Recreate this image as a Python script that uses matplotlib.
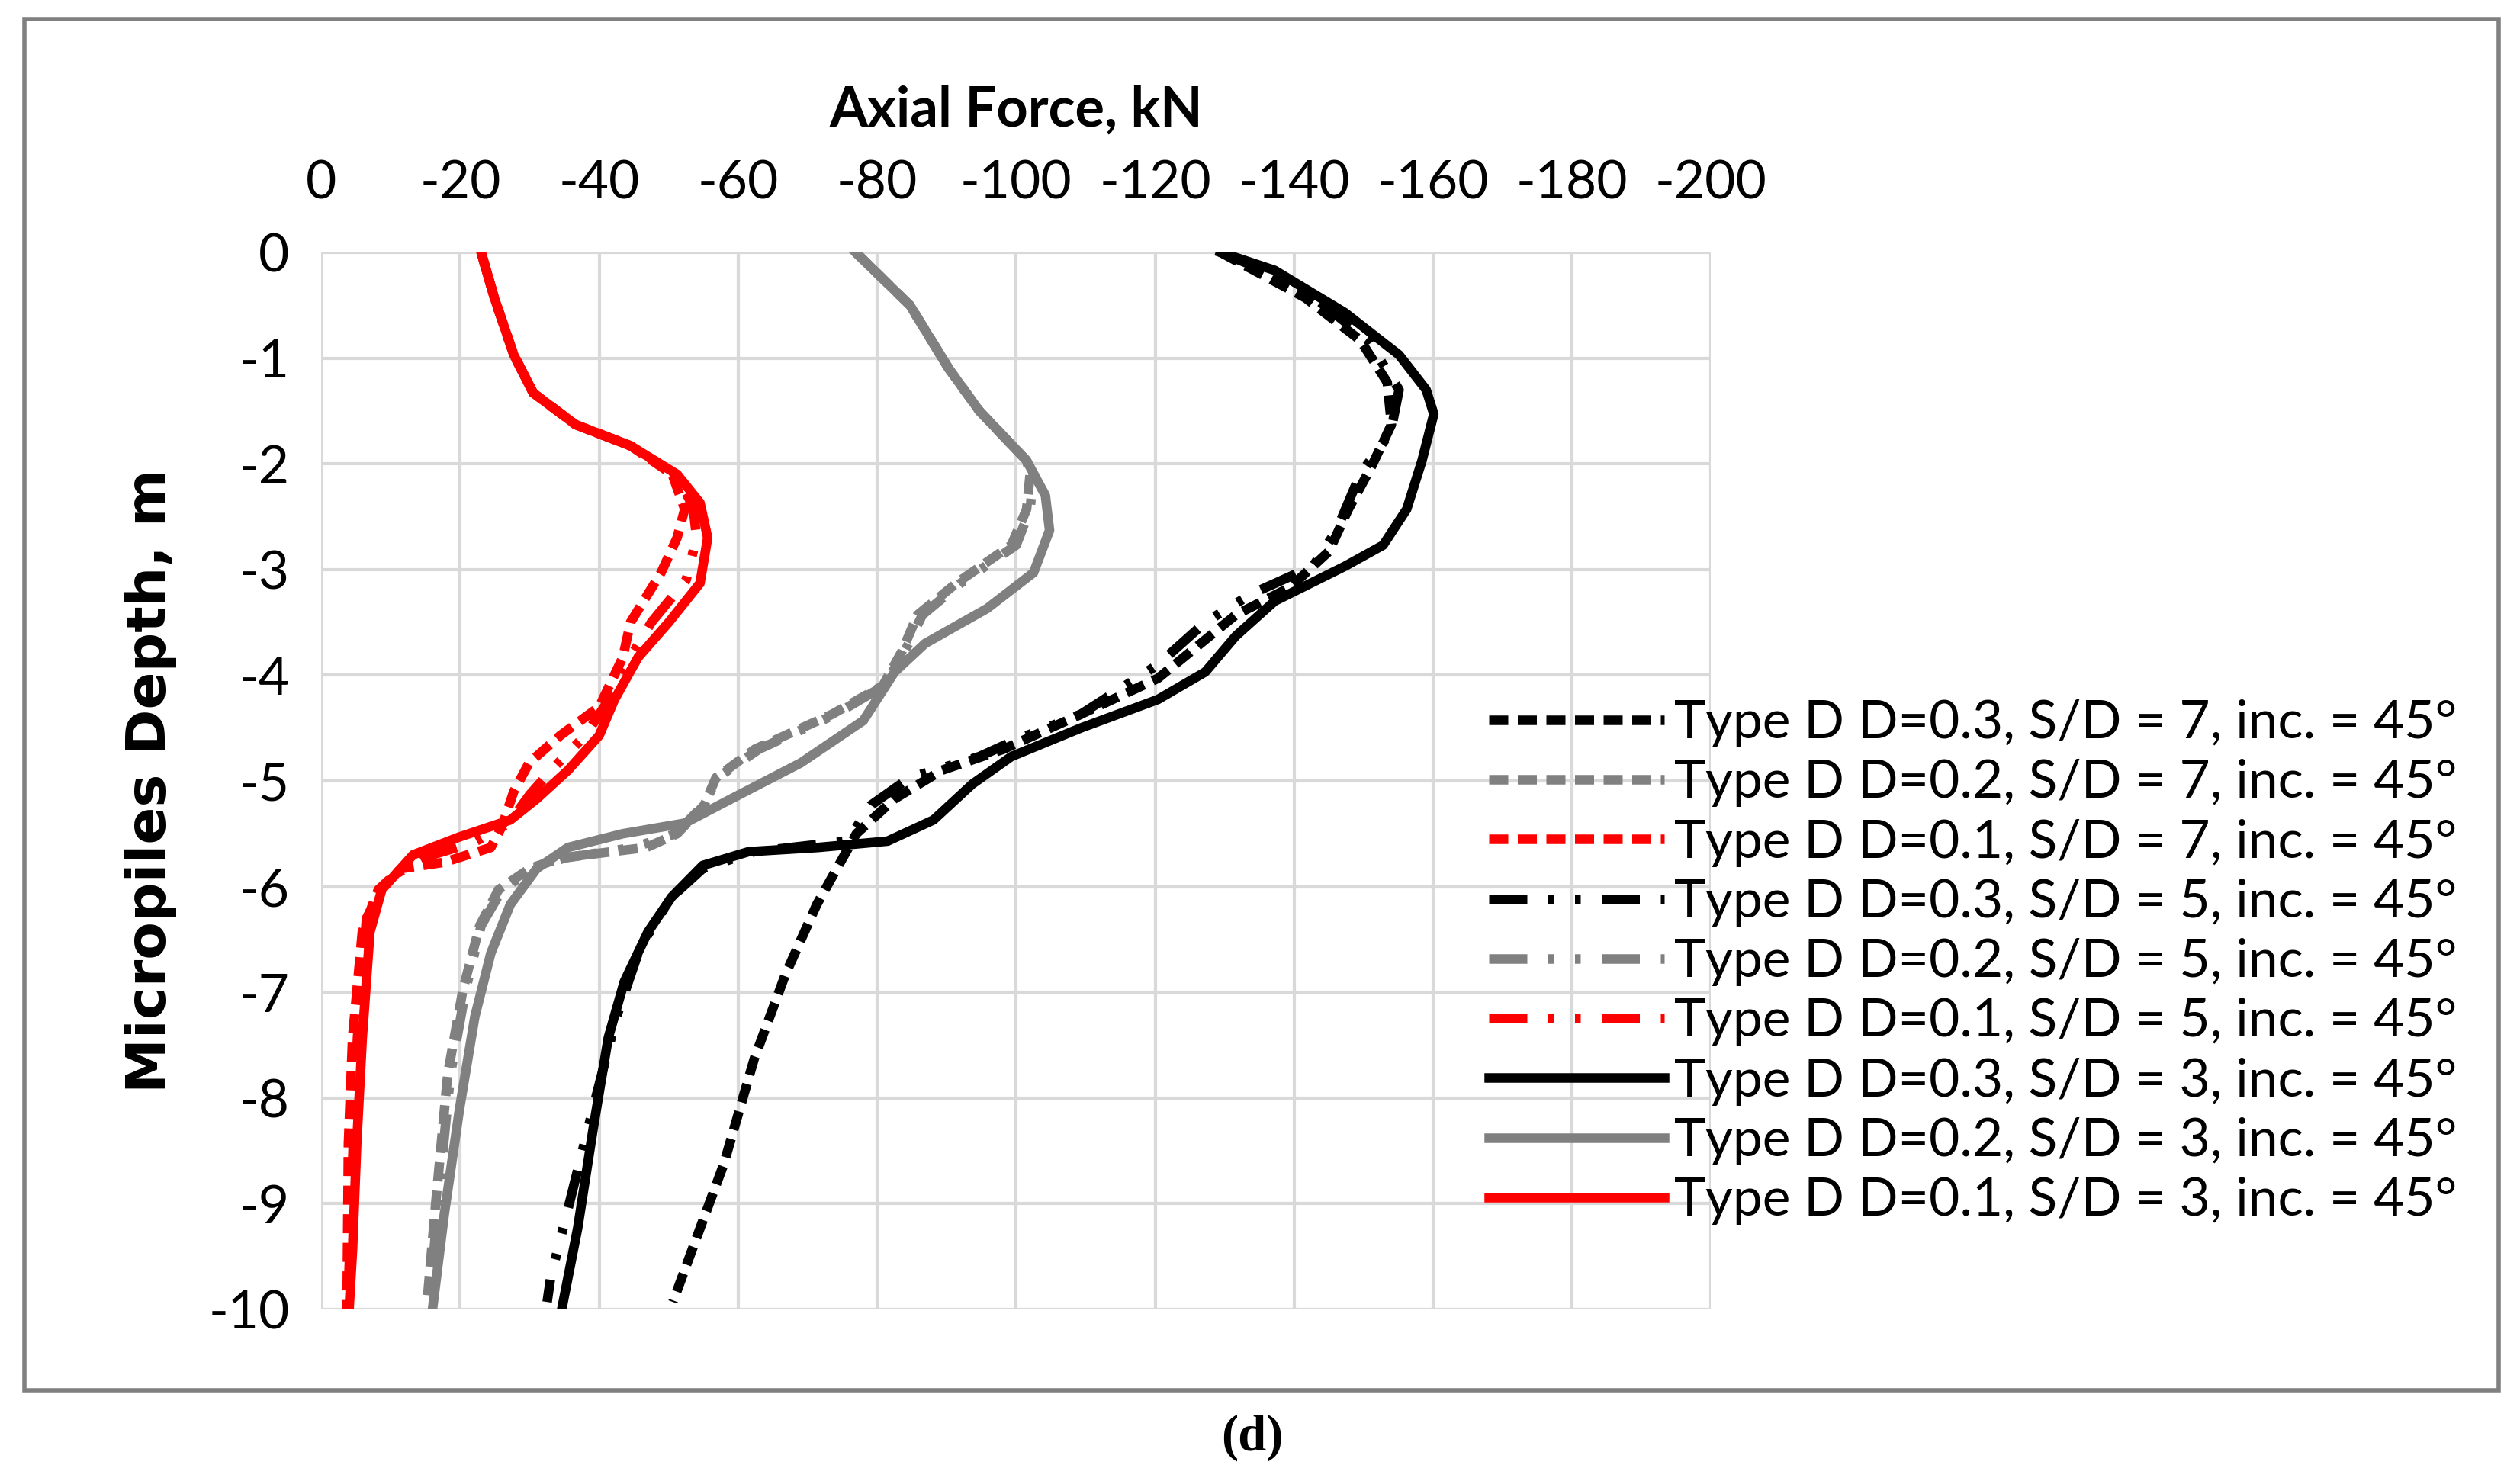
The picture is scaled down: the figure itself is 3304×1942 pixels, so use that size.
import matplotlib
matplotlib.use('Agg')
import matplotlib.pyplot as plt
from matplotlib.patches import Rectangle

# data: (force magnitude kN, depth m); force is plotted as negative

red_3_force = [23.0, 24.9, 27.7, 30.5, 36.6, 44.5, 51.2, 54.5, 55.6, 54.5, 50.0, 45.6, 42.2, 40.0, 35.5, 31.0, 27.2, 19.9, 13.2, 8.7, 7.0, 5.9, 5.1, 4.5, 4.0]
red_3_depth = [0, -0.43, -0.97, -1.33, -1.63, -1.83, -2.1, -2.37, -2.7, -3.13, -3.5, -3.83, -4.23, -4.57, -4.9, -5.17, -5.37, -5.53, -5.7, -6.03, -6.43, -7.43, -8.43, -9.43, -10]

red_7_force = [23.0, 24.9, 27.7, 30.5, 36.6, 44.5, 50.5, 52.3, 51.2, 48.9, 44.5, 43.4, 40.0, 34.4, 29.9, 27.7, 26.0, 24.4, 17.7, 11.5, 8.2, 5.9, 4.5, 3.9, 3.7]
red_7_depth = [0, -0.43, -0.97, -1.33, -1.63, -1.83, -2.1, -2.43, -2.7, -3.03, -3.5, -3.83, -4.3, -4.57, -4.83, -5.1, -5.43, -5.63, -5.77, -5.83, -6.03, -6.43, -7.43, -8.43, -10]

red_5_force = [23.0, 24.9, 27.7, 30.5, 36.6, 44.5, 51.0, 53.5, 54.0, 52.5, 47.5, 44.5, 41.0, 38.0, 33.5, 30.0, 27.0, 22.0, 15.0, 9.5, 6.5, 5.2, 4.6, 4.1, 3.8]
red_5_depth = [0, -0.43, -0.97, -1.33, -1.63, -1.83, -2.1, -2.4, -2.7, -3.1, -3.5, -3.83, -4.27, -4.57, -4.87, -5.13, -5.4, -5.58, -5.72, -5.93, -6.3, -7.43, -8.43, -9.43, -10]

gray_3_force = [76.9, 84.7, 90.3, 94.7, 101.5, 104.2, 104.8, 102.5, 95.8, 86.9, 82.5, 78.0, 69.0, 59.0, 52.3, 43.4, 35.5, 31.0, 27.2, 24.4, 22.1, 19.9, 17.7, 16.0]
gray_3_depth = [0, -0.5, -1.1, -1.5, -1.97, -2.3, -2.63, -3.03, -3.37, -3.7, -3.97, -4.43, -4.83, -5.17, -5.4, -5.5, -5.63, -5.83, -6.17, -6.63, -7.23, -8.1, -9.1, -10]

gray_7_force = [76.9, 84.7, 90.3, 94.7, 101.5, 102.0, 101.5, 99.3, 91.4, 85.8, 83.6, 80.8, 73.5, 62.4, 56.8, 55.1, 51.2, 46.8, 34.4, 30.0, 25.5, 22.8, 20.4, 18.2, 16.5, 15.2]
gray_7_depth = [0, -0.5, -1.1, -1.5, -1.97, -2.1, -2.43, -2.77, -3.13, -3.43, -3.77, -4.1, -4.37, -4.7, -4.97, -5.23, -5.5, -5.63, -5.73, -5.83, -6.03, -6.37, -6.97, -7.77, -8.97, -9.95]

gray_5_force = [76.9, 84.7, 90.3, 94.7, 101.5, 102.5, 102.0, 100.0, 92.0, 86.5, 84.0, 81.0, 74.0, 63.0, 57.0, 55.0, 51.0, 45.0, 35.0, 30.5, 26.0, 23.0, 20.8, 18.6, 16.8, 15.6]
gray_5_depth = [0, -0.5, -1.1, -1.5, -1.97, -2.1, -2.43, -2.77, -3.13, -3.43, -3.77, -4.1, -4.37, -4.7, -4.97, -5.23, -5.5, -5.63, -5.73, -5.83, -6.03, -6.37, -6.97, -7.77, -8.97, -9.95]

black_3_force = [129.4, 137.2, 147.3, 155.1, 159.0, 160.1, 158.4, 156.2, 152.8, 147.3, 137.2, 131.6, 127.2, 120.4, 109.3, 99.3, 93.7, 88.1, 81.5, 71.5, 61.5, 54.9, 50.4, 47.0, 43.6, 41.3, 39.1, 36.9, 34.6]
black_3_depth = [0, -0.17, -0.57, -0.97, -1.3, -1.53, -1.97, -2.43, -2.77, -2.97, -3.3, -3.63, -3.97, -4.23, -4.5, -4.77, -5.03, -5.37, -5.57, -5.63, -5.67, -5.8, -6.1, -6.43, -6.9, -7.43, -8.3, -9.23, -10]

black_7_force = [129.4, 141.6, 149.5, 153.4, 154.0, 151.1, 147.8, 145.0, 139.4, 131.6, 120.4, 109.3, 98.2, 89.3, 82.5, 77.0, 74.7, 71.3, 66.8, 62.3, 57.9, 53.4, 50.6]
black_7_depth = [0, -0.43, -0.83, -1.23, -1.63, -2.03, -2.43, -2.83, -3.17, -3.43, -4.03, -4.37, -4.7, -4.9, -5.17, -5.5, -5.77, -6.17, -6.83, -7.63, -8.63, -9.43, -9.93]

black_5_force = [129.4, 140.5, 150.6, 155.1, 153.9, 149.5, 146.1, 142.7, 133.9, 127.2, 120.4, 109.3, 100.4, 94.7, 84.7, 79.1, 75.7, 62.3, 54.9, 50.4, 45.9, 42.5, 39.1, 35.8, 33.0, 32.5]
black_5_depth = [0, -0.3, -0.83, -1.3, -1.7, -2.1, -2.63, -2.97, -3.23, -3.5, -3.9, -4.37, -4.6, -4.77, -4.97, -5.23, -5.57, -5.67, -5.83, -6.1, -6.57, -7.23, -8.1, -8.97, -9.7, -9.93]

x_ticks = list(range(0, -201, -20))
y_ticks = list(range(0, -11, -1))

DASH = (0, (2.0, 1.0))
DASH_DOT = (0, (4.0, 2.2, 0.6, 2.2, 0.6, 2.2))

series = [
    ('Type D D=0.3, S/D = 7, inc. = 45°', black_7_force, black_7_depth, 'black', DASH),
    ('Type D D=0.2, S/D = 7, inc. = 45°', gray_7_force, gray_7_depth, 'grey', DASH),
    ('Type D D=0.1, S/D = 7, inc. = 45°', red_7_force, red_7_depth, 'red', DASH),
    ('Type D D=0.3, S/D = 5, inc. = 45°', black_5_force, black_5_depth, 'black', DASH_DOT),
    ('Type D D=0.2, S/D = 5, inc. = 45°', gray_5_force, gray_5_depth, 'grey', DASH_DOT),
    ('Type D D=0.1, S/D = 5, inc. = 45°', red_5_force, red_5_depth, 'red', DASH_DOT),
    ('Type D D=0.3, S/D = 3, inc. = 45°', black_3_force, black_3_depth, 'black', '-'),
    ('Type D D=0.2, S/D = 3, inc. = 45°', gray_3_force, gray_3_depth, 'grey', '-'),
    ('Type D D=0.1, S/D = 3, inc. = 45°', red_3_force, red_3_depth, 'red', '-'),
]

plt.rcParams['font.family'] = ['Lato', 'DejaVu Sans']
plt.rcParams['axes.unicode_minus'] = False

fig = plt.figure(figsize=(33.04, 19.42), dpi=100)
ax = fig.add_axes([0.1275, 0.1159, 0.5515, 0.7137])

for label, force, depth, color, style in series:
    ax.plot([-f for f in force], depth, linestyle=style, color=color, linewidth=9, label=label)

ax.set_xlim(0, -200)
ax.set_ylim(-10, 0)
ax.set_xticks(x_ticks)
ax.set_yticks(y_ticks)
ax.xaxis.tick_top()
ax.xaxis.set_label_position('top')
ax.tick_params(length=0, labelsize=50)
ax.tick_params(axis='x', pad=42)
ax.tick_params(axis='y', pad=30)
ax.grid(color='#d9d9d9', linewidth=3)
ax.set_axisbelow(True)
for spine in ax.spines.values():
    spine.set_visible(False)
ax.set_xlabel('Axial Force, kN', fontsize=52, fontweight='bold', labelpad=32)
ax.set_ylabel('Micropiles Depth, m', fontsize=52, fontweight='black', labelpad=30,
              family=['DejaVu Sans'])

fig.legend(loc='upper left', bbox_to_anchor=(0.572, 0.56), frameon=False,
           fontsize=50, handlelength=3.3, labelspacing=0.22, handletextpad=0.2)

fig.patches.append(Rectangle((0.0097, 0.0613), 0.9818, 0.9258, transform=fig.transFigure,
                             fill=False, edgecolor='#808080', linewidth=4))
fig.text(0.497, 0.029, '(d)', fontsize=48, fontweight='bold', family='Liberation Serif',
         ha='center', va='center')

fig.savefig('out.png')
